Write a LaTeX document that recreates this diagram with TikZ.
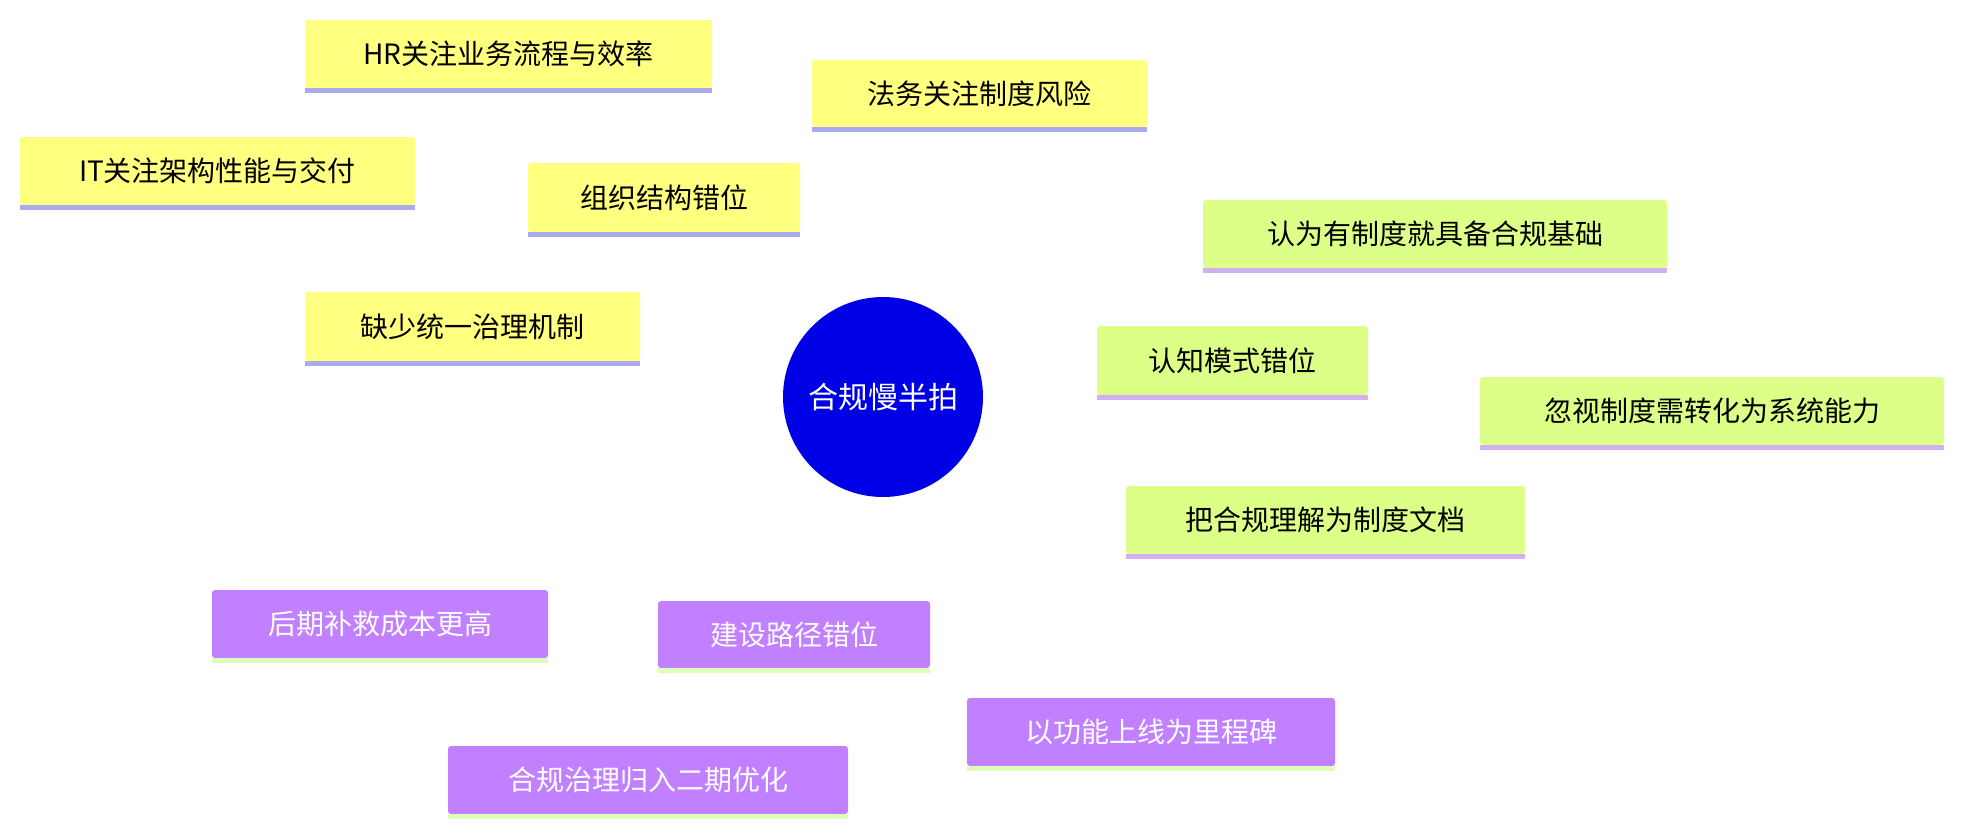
\documentclass[tikz,border=0pt]{standalone}
\usepackage{fontspec}
\setmainfont{Noto Sans CJK SC}
\definecolor{yel}{HTML}{FFFF80}
\definecolor{grn}{HTML}{DDFF88}
\definecolor{pur}{HTML}{C080FF}
\definecolor{lav}{HTML}{AAAAEE}
\definecolor{lav2}{HTML}{D0B0F0}
\definecolor{lgr}{HTML}{DDFFBB}
\definecolor{cen}{HTML}{0000E6}
\tikzset{
 box/.style={fill=#1,rounded corners=3pt,inner sep=0pt,font=\fontsize{28}{34}\selectfont},
 yb/.style={box=yel,text=black},
 gb/.style={box=grn,text=black},
 pb/.style={box=pur,text=white},
 thk/.style={line width=16pt,draw=#1},
 thn/.style={line width=8pt,draw=#1},
}
\newcommand{\bx}[6]{\node[#1,minimum width=#4pt,minimum height=#5pt] (#2) at (#3) {#6};}
\begin{document}
\begin{tikzpicture}[x=1pt,y=-1pt]
\useasboundingbox (0,0) rectangle (1963,833);
% nodes
\node[circle,fill=cen,minimum size=200pt,text=white,font=\fontsize{30}{36}\selectfont] (c) at (883,397) {合规慢半拍};
\bx{yb}{hr}{508.5,54}{407}{68}{HR关注业务流程与效率}
\bx{yb}{fw}{979.5,93.5}{335}{67}{法务关注制度风险}
\bx{yb}{it}{217.5,171}{395}{68}{IT关注架构性能与交付}
\bx{yb}{org}{664,197.5}{272}{69}{组织结构错位}
\bx{yb}{qs}{472.5,326.5}{335}{69}{缺少统一治理机制}
\bx{gb}{rw}{1435,234}{464}{68}{认为有制度就具备合规基础}
\bx{gb}{rz}{1232.5,360.5}{271}{69}{认知模式错位}
\bx{gb}{hs}{1712,411}{464}{68}{忽视制度需转化为系统能力}
\bx{gb}{bh}{1325.5,520}{399}{68}{把合规理解为制度文档}
\bx{pb}{hq}{380,624}{336}{68}{后期补救成本更高}
\bx{pb}{js}{794,634.5}{272}{67}{建设路径错位}
\bx{pb}{yg}{1151,732}{368}{68}{以功能上线为里程碑}
\bx{pb}{hg}{648,780}{400}{68}{合规治理归入二期优化}
% edges behind
\begin{scope}[on background layer/.style={}]
\end{scope}
\pgfsetlayers{main}
\begin{pgfonlayer}{main}\end{pgfonlayer}
% stripes
\foreach \n/\col in {hr/lav,fw/lav,it/lav,org/lav,qs/lav,rw/lav2,rz/lav2,hs/lav2,bh/lav2,hq/lgr,js/lgr,yg/lgr,hg/lgr}{
 \draw[\col,line width=5pt] ([yshift=-2.5pt]\n.south west) -- ([yshift=-2.5pt]\n.south east);
}
\end{tikzpicture}
\end{document}
